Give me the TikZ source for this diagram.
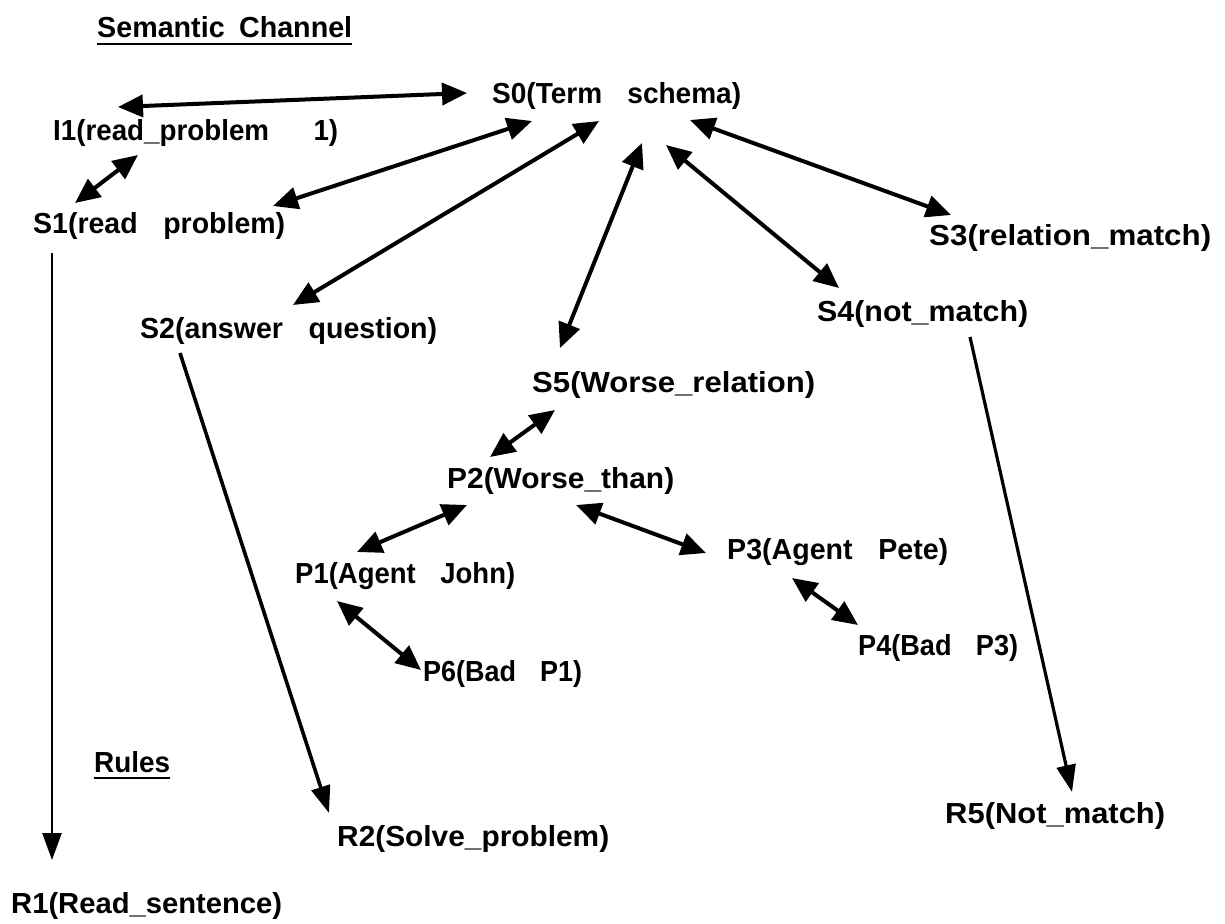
\documentclass[tikz,border=0pt]{standalone}
\usepackage{fontspec}
\usepackage{graphicx}
\setmainfont{Liberation Sans}
\usetikzlibrary{arrows.meta,calc}
% set a label at a given width, keeping its natural height
\newcommand{\lab}[2]{\resizebox{#1pt}{\height}{#2}}
\newcommand{\gap}{\hspace{0.9em}}
\begin{document}
\begin{tikzpicture}[x=1pt,y=-1pt,
  lbl/.style={anchor=base west,inner sep=0pt,font=\fontsize{29}{32}\selectfont\bfseries},
  dbl/.style={line width=4pt,{Triangle[length=25pt,width=22pt]}-{Triangle[length=25pt,width=22pt]}},
  one/.style={line width=3.2pt,-{Triangle[length=27pt,width=19pt]}},
  uline/.style={line width=2.6pt}]
\useasboundingbox (0,0) rectangle (1225,923);
% headings
\node[lbl] (sc) at (97,38) {\lab{255}{Semantic\hspace{0.5em}Channel}};
\node[lbl] (rules) at (94,772) {\lab{76}{Rules}};
\draw[uline] ($(sc.base west)+(0,6)$) -- ($(sc.base east)+(0,6)$);
\draw[uline] ($(rules.base west)+(0,6)$) -- ($(rules.base east)+(0,6)$);
% semantic channel nodes
\node[lbl] (s0) at (492,103) {\lab{249}{S0(Term\gap schema)}};
\node[lbl] (i1) at (53,140) {\lab{285}{I1(read\_problem\hspace{1.6em}1)}};
\node[lbl] (s1) at (33,233) {\lab{252}{S1(read\gap problem)}};
\node[lbl] (s2) at (140,338) {\lab{297}{S2(answer\gap question)}};
\node[lbl] (s3) at (929,245) {\lab{282}{S3(relation\_match)}};
\node[lbl] (s4) at (817,321) {\lab{211}{S4(not\_match)}};
\node[lbl] (s5) at (532,392) {\lab{283}{S5(Worse\_relation)}};
\node[lbl] (p2) at (447,488) {\lab{227}{P2(Worse\_than)}};
\node[lbl] (p1) at (295,583) {\lab{220}{P1(Agent\gap John)}};
\node[lbl] (p3) at (727,559) {\lab{221}{P3(Agent\gap Pete)}};
\node[lbl] (p4) at (858,655) {\lab{160}{P4(Bad\gap P3)}};
\node[lbl] (p6) at (423,681) {\lab{159}{P6(Bad\gap P1)}};
% rule nodes
\node[lbl] (r2) at (337,846) {\lab{272}{R2(Solve\_problem)}};
\node[lbl] (r5) at (945,823) {\lab{220}{R5(Not\_match)}};
\node[lbl] (r1) at (11,913) {\lab{271}{R1(Read\_sentence)}};
% two-way links
\draw[dbl] ($(i1.base west)+(65,-33)$) -- ($(s0.base west)+(-25,-10)$);
\draw[dbl] ($(i1.base west)+(85,15)$) -- ($(s1.base west)+(42,-30)$);
\draw[dbl] ($(s0.base west)+(40,18)$) -- ($(s1.base west)+(240,-27)$);
\draw[dbl] ($(s0.base west)+(107,18)$) -- ($(s2.base west)+(153,-33)$);
\draw[dbl] ($(s0.base west)+(150,40)$) -- ($(s5.base west)+(28,-44)$);
\draw[dbl] ($(s0.base west)+(174,42)$) -- ($(s4.base west)+(22,-33)$);
\draw[dbl] ($(s0.base west)+(198,17)$) -- ($(s3.base west)+(22,-30)$);
\draw[dbl] ($(s5.base west)+(23,18)$) -- ($(p2.base west)+(43,-31)$);
\draw[dbl] ($(p2.base west)+(20,17)$) -- ($(p1.base west)+(62,-31)$);
\draw[dbl] ($(p2.base west)+(129,17)$) -- ($(p3.base west)+(-21,-6)$);
\draw[dbl] ($(p3.base west)+(65,19)$) -- ($(p4.base west)+(0,-30)$);
\draw[dbl] ($(p1.base west)+(42,18)$) -- ($(p6.base west)+(-2,-11)$);
% one-way links to the rules
\draw[one,line width=2.6pt] ($(s1.base west)+(19,20)$) -- ($(r1.base west)+(41,-53)$);
\draw[one,line width=3.6pt] ($(s2.base west)+(40,15)$) -- ($(r2.base west)+(-8,-33)$);
\draw[one] ($(s4.base west)+(153,16)$) -- ($(r5.base west)+(127,-31)$);
\end{tikzpicture}
\end{document}
